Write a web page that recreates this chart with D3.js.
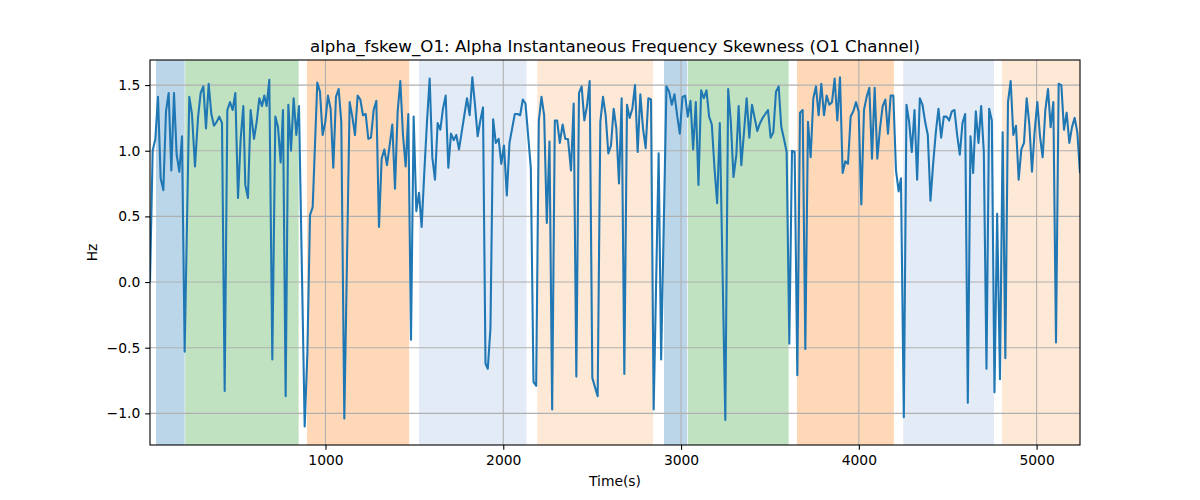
<!DOCTYPE html>
<html><head><meta charset="utf-8">
<script src="https://cdn.jsdelivr.net/npm/d3@7"></script>
<style>body{margin:0;background:#fff}svg{display:block}text{font-family:"DejaVu Sans",sans-serif;fill:#000}</style>
</head><body><svg id="c" width="1200" height="500"></svg>
<script>
const titleText = "alpha_fskew_O1: Alpha Instantaneous Frequency Skewness (O1 Channel)";
const xLabel = "Time(s)";
const yLabel = "Hz";
const xTicks = [1000, 2000, 3000, 4000, 5000];
const yTicks = [-1.0, -0.5, 0.0, 0.5, 1.0, 1.5];

const times = [
13,28,43,58,73,88,103,118,133,148,163,178,193,208,234,249,266,283,298,313,328,343,358,373,388,403,418,433,448,463,478,
493,508,523,538,549,564,579,598,613,628,643,656,669,684,701,718,733,748,761,776,791,806,821,836,851,883,898,913,928,954,
969,984,999,1014,1029,1044,1059,1074,1089,1106,1136,1151,1166,1181,1196,1211,1226,1241,1256,1271,1286,1301,1316,1331,1346,1361,1376,1391,1406,1421,
1436,1451,1466,1481,1496,1511,1526,1541,1556,1571,1586,1601,1616,1631,1646,1661,1676,1691,1706,1721,1736,1751,1766,1781,1796,1811,1826,1841,1856,1871,1886,1900,
1913,1928,1943,1958,1974,1989,2004,2020,2035,2050,2065,2080,2095,2110,2125,2155,2170,2185,2200,2215,2230,2245,2260,2275,2290,2303,2318,2334,2349,2364,
2381,2396,2411,2426,2441,2456,2471,2486,2501,2516,2531,2546,2561,2576,2591,2606,2621,2636,2651,2666,2681,2696,2711,2726,2741,2756,2771,2786,2801,2816,2831,2846,
2874,2888,2918,2933,2948,2963,2978,2993,3008,3023,3038,3053,3068,3083,3098,3113,3128,3143,3158,3173,3188,3203,3218,3249,3265,3280,3295,
3311,3324,3339,3354,3369,3384,3399,3414,3429,3444,3459,3474,3489,3504,3519,3534,3549,3564,3579,3594,3609,3624,3639,3654,3669,3684,3699,3714,3729,3744,3759,3774,3789,
3804,3819,3834,3849,3864,3879,3894,3909,3924,3939,3954,3969,3984,3999,4014,4029,4044,4059,4074,4089,4104,4119,4134,4149,4164,4179,4194,4209,4224,4237,
4253,4268,4283,4298,4313,4328,4343,4358,4373,4388,4403,4418,4433,4448,4463,4478,4493,4508,4523,4538,4553,4568,4583,4598,4613,4628,4643,4658,4673,4688,4703,4718,4733,
4748,4763,4778,4794,4809,4824,4839,4854,4869,4884,4899,4914,4929,4944,4959,4974,4989,5004,5019,5034,5049,5064,5079,5094,5109,5124,5139,5154,5169,5184,5199,5214,5229,5244
];
const values = [
0.0,1.0,1.09,1.41,0.79,0.70,1.30,1.44,0.85,1.44,0.97,0.84,1.11,-0.53,1.41,1.28,0.88,1.25,1.44,1.49,1.17,1.51,1.28,1.19,1.22,1.26,1.21,-0.83,1.31,1.37,1.31,
1.44,0.64,1.09,1.34,0.74,0.64,1.31,1.09,1.22,1.40,1.34,1.42,1.34,1.54,-0.59,1.26,1.18,0.91,1.31,-0.87,1.35,1.00,1.40,1.12,1.34,-1.10,-0.55,0.51,0.57,1.52,
1.45,1.12,1.22,1.42,1.32,0.87,1.41,1.47,1.22,-1.04,1.37,1.26,1.12,1.42,1.39,1.27,1.28,1.09,1.10,1.31,1.38,0.42,0.94,1.01,0.89,1.04,1.20,0.71,1.30,1.53,
1.12,0.88,1.28,-0.44,1.26,0.54,0.68,0.42,0.84,1.22,1.55,0.95,0.78,1.21,1.16,1.32,1.42,0.87,1.13,1.08,1.12,1.01,1.14,1.27,1.40,1.27,1.56,1.35,1.11,1.23,1.33,-0.62,
-0.66,-0.35,1.24,1.06,1.09,0.90,1.04,0.66,1.06,1.17,1.28,1.28,1.27,1.39,1.36,0.87,-0.76,-0.79,1.23,1.41,1.27,0.45,1.07,-0.97,1.23,1.23,1.06,1.20,1.09,1.09,
0.85,1.36,-0.72,1.44,1.49,1.23,1.34,1.53,-0.73,-0.80,-0.87,1.22,1.41,1.27,0.98,1.04,1.32,1.17,0.75,1.40,-0.70,1.35,1.25,1.32,1.50,0.99,1.43,1.17,1.02,1.40,1.39,-0.97,
0.98,-0.59,1.49,1.45,1.35,1.43,1.27,1.13,1.41,1.42,1.26,1.38,1.01,1.37,0.74,1.46,1.40,1.46,1.26,1.20,0.87,0.60,1.21,-1.05,1.47,1.22,0.80,
0.97,1.34,0.89,1.14,1.40,1.10,1.35,1.25,1.15,1.21,1.25,1.28,1.31,1.10,1.14,1.45,1.49,1.18,1.09,0.99,-0.47,1.00,0.99,-0.71,1.29,1.31,-0.51,1.22,0.95,1.40,1.49,1.27,1.51,
1.27,1.42,1.35,1.37,1.55,1.23,1.56,0.83,0.92,0.90,1.26,1.30,1.37,1.30,0.59,1.31,1.41,1.48,0.94,1.48,0.94,1.17,1.34,1.39,1.13,1.42,1.42,0.85,0.69,0.79,
-1.03,1.35,1.22,0.99,1.31,0.78,1.40,1.35,1.22,1.12,0.62,0.90,1.14,1.32,1.10,1.26,1.26,1.23,1.30,1.31,1.12,0.97,1.21,1.28,-0.92,1.11,0.83,1.30,1.06,1.34,0.99,-0.66,1.32,
1.23,-0.84,0.52,-0.74,1.14,-0.58,1.37,1.53,1.12,1.19,0.78,1.01,1.06,1.40,1.20,0.84,1.15,1.37,1.11,0.95,1.31,1.47,1.18,1.37,-0.46,1.51,1.50,1.16,1.29,1.06,1.18,1.25,1.14,0.83
];

const spanStarts = [47, 211, 896, 1526, 2191, 2904, 3039, 3652, 4250, 4805];
const spanEnds   = [208, 849, 1471, 2131, 2842, 3035, 3605, 4197, 4760, 5260];
const spanKinds  = ["blue","green","orange","lightblue","lightorange","blue","green","orange","lightblue","lightorange"];

const kindColor = {blue:"#bbd6e8", green:"#c0e2c0", orange:"#ffd9b7", lightblue:"#e3ebf6", lightorange:"#fee8d6"};

const svg = d3.select("#c");
const L=150,R=1080,T=60,B=445;
const x = d3.scaleLinear().domain(d3.extent(times)).range([L,R]);
const y = d3.scaleLinear().domain([-1.241,1.691]).range([B,T]);

const defs = svg.append("defs");
defs.append("clipPath").attr("id","clip").append("rect").attr("x",L).attr("y",T).attr("width",R-L).attr("height",B-T);
const g = svg.append("g").attr("clip-path","url(#clip)");

g.selectAll("rect.span").data(spanStarts.map((s,i)=>({s,e:spanEnds[i],k:spanKinds[i]})))
 .enter().append("rect").attr("class","span")
 .attr("x",d=>x(d.s)).attr("width",d=>x(d.e)-x(d.s))
 .attr("y",T).attr("height",B-T).attr("fill",d=>kindColor[d.k]);

g.selectAll("line.gx").data(xTicks).enter().append("line")
 .attr("x1",d=>x(d)).attr("x2",d=>x(d)).attr("y1",T).attr("y2",B)
 .attr("stroke","#b0b0b0").attr("stroke-width",1.1);
g.selectAll("line.gy").data(yTicks).enter().append("line")
 .attr("y1",d=>y(d)).attr("y2",d=>y(d)).attr("x1",L).attr("x2",R)
 .attr("stroke","#b0b0b0").attr("stroke-width",1.1);

const line = d3.line().x((d,i)=>x(times[i])).y(d=>y(d));
g.append("path").datum(values).attr("d",line).attr("fill","none")
 .attr("stroke","#1f77b4").attr("stroke-width",2.08).attr("stroke-linejoin","round").attr("stroke-linecap","butt");

const xa = svg.append("g").attr("transform",`translate(0,${B})`)
 .call(d3.axisBottom(x).tickValues(xTicks).tickFormat(d3.format("d")).tickSizeOuter(0).tickSize(4.86).tickPadding(4.9));
const ya = svg.append("g").attr("transform",`translate(${L},0)`)
 .call(d3.axisLeft(y).tickValues(yTicks).tickFormat(d3.format(".1f")).tickSizeOuter(0).tickSize(4.86).tickPadding(4.9));
[xa,ya].forEach(a=>{
  a.select(".domain").remove();
  a.selectAll(".tick line").attr("stroke","#000").attr("stroke-width",1.1);
  a.selectAll(".tick text").attr("font-size","13.89px").attr("font-family","DejaVu Sans").attr("fill","#000");
});
ya.selectAll(".tick text").text(d=>d3.format(".1f")(d).replace("-","\u2212"));

svg.append("rect").attr("x",L).attr("y",T).attr("width",R-L).attr("height",B-T)
 .attr("fill","none").attr("stroke","#000").attr("stroke-width",1.1);

svg.append("text").attr("x",(L+R)/2).attr("y",51.7).attr("text-anchor","middle")
 .attr("font-size","16.67px").text(titleText);
svg.append("text").attr("x",(L+R)/2).attr("y",486).attr("text-anchor","middle")
 .attr("font-size","13.89px").text(xLabel);
svg.append("text").attr("transform",`translate(97,${(T+B)/2}) rotate(-90)`).attr("text-anchor","middle")
 .attr("font-size","13.89px").text(yLabel);
</script></body></html>
